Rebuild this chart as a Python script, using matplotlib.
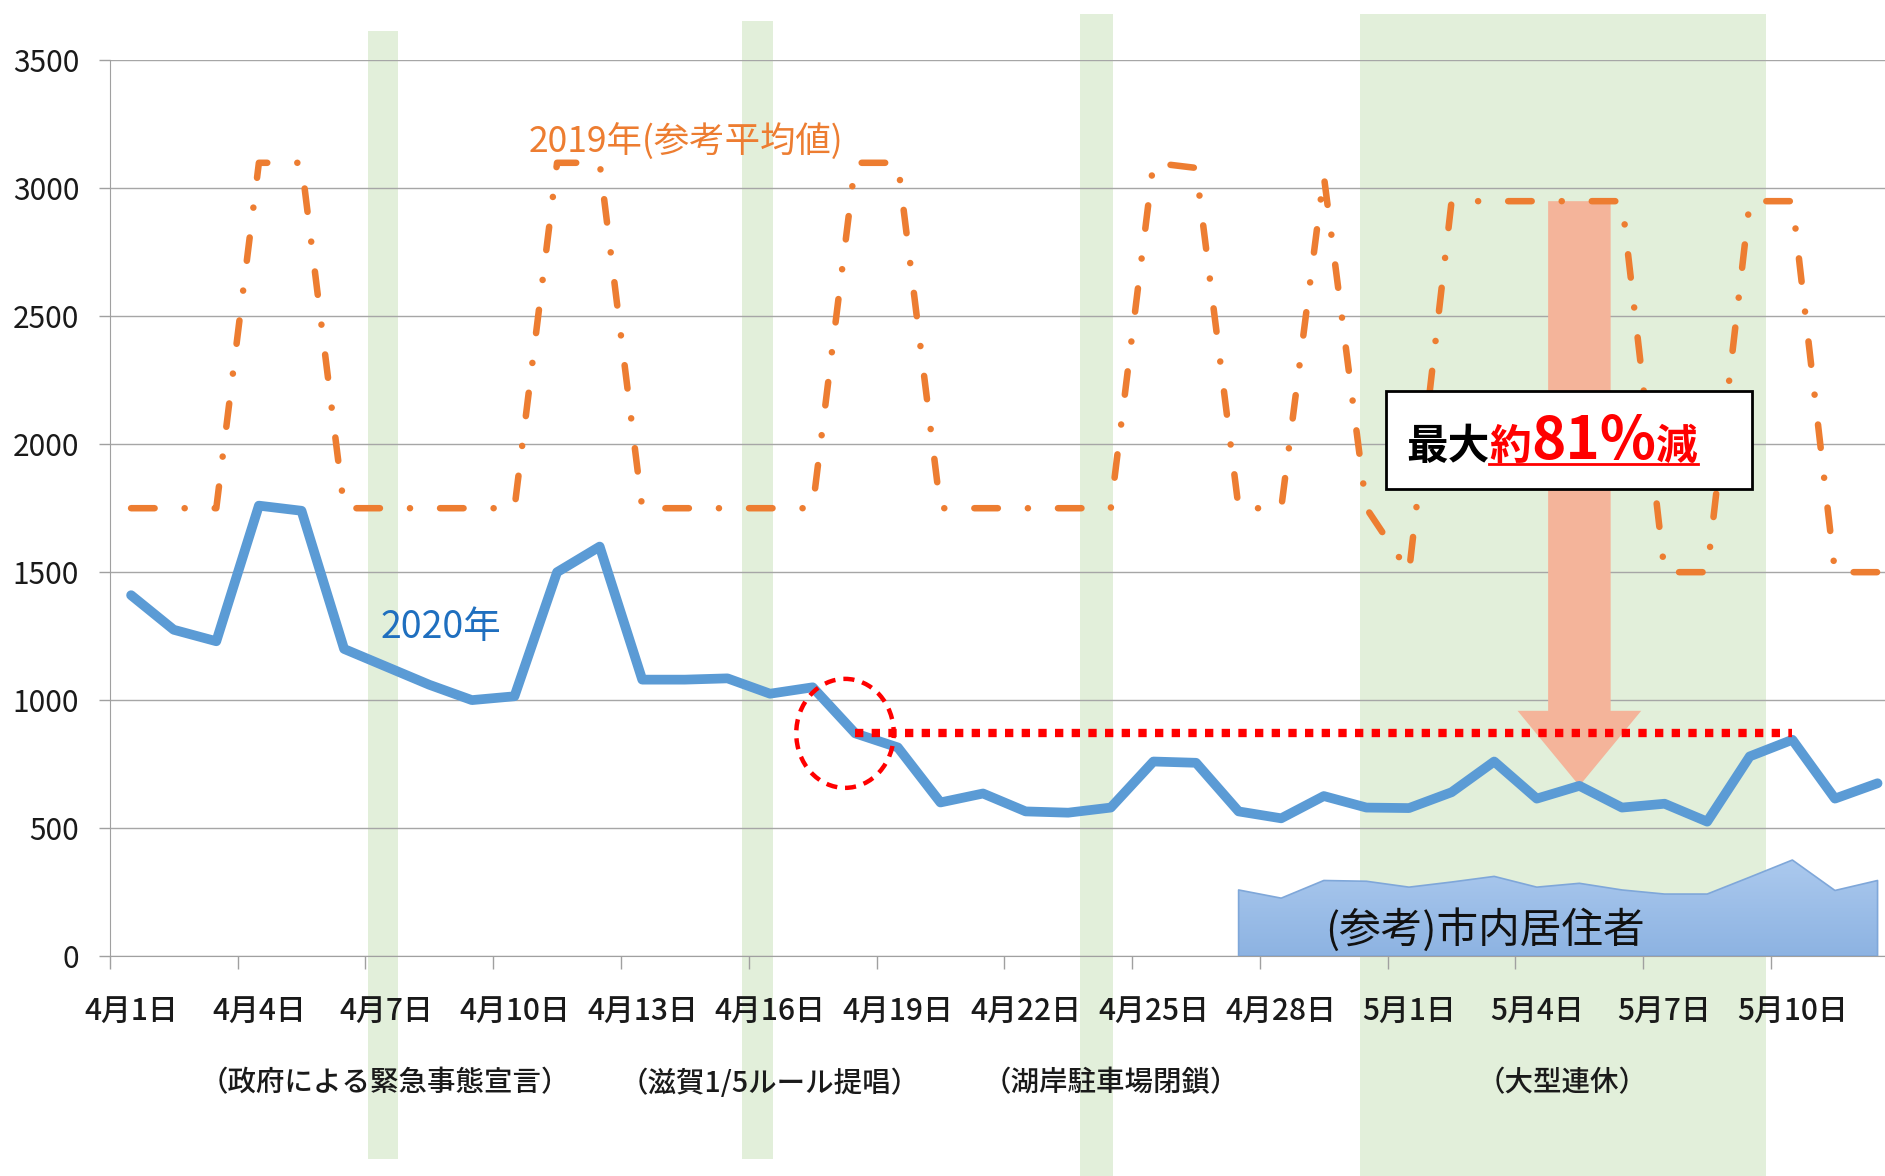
import numpy as np
import matplotlib
matplotlib.use('Agg')
import matplotlib.pyplot as plt
from matplotlib import patches, transforms
from matplotlib.lines import Line2D
from matplotlib.offsetbox import TextArea, HPacker, AnnotationBbox

plt.rcParams['font.family'] = ['Noto Sans CJK JP', 'DejaVu Sans']

# 日付 (4/1 - 5/12)
days_apr = list(range(1, 31))
days_may = list(range(1, 13))
dates = [f'4月{d}日' for d in days_apr] + [f'5月{d}日' for d in days_may]

# 2020年
visitors_2020 = [1410, 1275, 1230, 1760, 1740, 1200, 1130, 1060, 1000, 1015,
                 1500, 1600, 1080, 1080, 1085, 1025, 1050, 870, 815, 600,
                 635, 565, 560, 580, 760, 755, 565, 538, 625, 580,
                 578, 640, 760, 615, 665, 580, 595, 525, 780, 845,
                 615, 675]
# 2019年(参考平均値)
visitors_2019 = [1750, 1750, 1750, 3100, 3100, 1750, 1750, 1750, 1750, 1750,
                 3100, 3100, 1750, 1750, 1750, 1750, 1750, 3100, 3100, 1750,
                 1750, 1750, 1750, 1750, 3100, 3080, 1750, 1750, 3050, 1750,
                 1500, 2950, 2950, 2950, 2950, 2950, 1500, 1500, 2950, 2950,
                 1500, 1500]
# (参考)市内居住者 4/27から
resident_start = 26
residents = [258, 226, 295, 292, 269, 289, 311, 269, 284, 258, 242, 242, 308, 375, 256, 295]

events = ['（政府による緊急事態宣言）', '（滋賀1/5ルール提唱）', '（湖岸駐車場閉鎖）', '（大型連休）']
event_x = [5.95, 15.0, 23.0, 33.6]
bands = [(5.57, 6.27), (14.34, 15.07), (22.28, 23.04), (28.86, 38.37)]
band_top = [0.974, 0.982, 0.988, 0.988]
band_bottom = [0.0145, 0.0145, 0.0, 0.0]

ref_start, ref_end = 17, 39   # 点線の範囲
drop_day = 34                 # 最大減少日 (5月5日)

fig = plt.figure(figsize=(18.85, 11.76), dpi=100)
ax = fig.add_axes([0.05825, 0.1871, 0.9491, 0.7615])
x = np.arange(len(dates))

# 緑の帯
trans = transforms.blended_transform_factory(ax.transData, fig.transFigure)
for (b0, b1), top, bot in zip(bands, band_top, band_bottom):
    ax.add_patch(patches.Rectangle((b0, bot), b1 - b0, top - bot, transform=trans,
                                   facecolor='#e2efda', edgecolor='none',
                                   clip_on=False, zorder=0.2))

# 市内居住者 (グラデーション)
xr = x[resident_start:resident_start + len(residents)]
area = ax.fill_between(xr, residents, 0, facecolor='none', edgecolor='#7fa7d9',
                       lw=1.2, zorder=1.1)
grad = matplotlib.colors.LinearSegmentedColormap.from_list('g', ['#8db3e2', '#abc9ee'])
im = ax.imshow(np.linspace(0, 1, 64).reshape(-1, 1), cmap=grad, origin='lower',
               extent=[xr[0], xr[-1], 0, max(residents)], aspect='auto', zorder=1)
im.set_clip_path(area.get_paths()[0], transform=ax.transData)

# 矢印
arrow = patches.FancyArrowPatch((drop_day, visitors_2019[drop_day]),
                                (drop_day, visitors_2020[drop_day]),
                                arrowstyle=patches.ArrowStyle.Simple(head_length=54, head_width=89, tail_width=45),
                                mutation_scale=1, shrinkA=0, shrinkB=0,
                                facecolor='#f4b49a', edgecolor='none', zorder=2)
ax.add_patch(arrow)

ax.plot(x, visitors_2019, color='#ed7d31', lw=4.7,
        linestyle=(0, (3.6, 4.6, 0.01, 4.6)), dash_capstyle='round', zorder=3)
ax.plot(x, visitors_2020, color='#5b9bd5', lw=7,
        solid_capstyle='round', solid_joinstyle='round', zorder=4)

# 基準の点線と円
level = visitors_2020[ref_start]
ax.plot([ref_start, ref_end], [level, level], color='red', lw=6,
        linestyle=(0, (1, 1)), dash_capstyle='butt', zorder=5)
ax.add_patch(patches.Ellipse((ref_start - 0.24, level), 2.29, 426, fill=False,
                             edgecolor='red', lw=3.2, linestyle=(0, (2.5, 1.8)), zorder=5))

# テキストボックス
ax.add_patch(patches.Rectangle((29.45, 1825), 8.6, 382, facecolor='white',
                               edgecolor='black', lw=2, zorder=6))
t1 = TextArea('最大', textprops=dict(color='black', fontsize=30, fontweight='bold'))
t2 = TextArea('約', textprops=dict(color='red', fontsize=30, fontweight='bold'))
t3 = TextArea('81%', textprops=dict(color='red', fontsize=42, fontweight='bold'))
t4 = TextArea('減', textprops=dict(color='red', fontsize=30, fontweight='bold'))
inner = HPacker(children=[t2, t3, t4], align='baseline', pad=0, sep=0)
outer = HPacker(children=[t1, inner], align='baseline', pad=0, sep=0)
ab = AnnotationBbox(outer, (29.93, 2009), xycoords='data', box_alignment=(0, 0.5),
                    frameon=False, pad=0, zorder=7)
ax.add_artist(ab)

# ラベル
ax.text(13.03, 3180, '2019年(参考平均値)', color='#ed7d31', fontsize=25.5,
        ha='center', va='center', zorder=6)
ax.text(7.27, 1285, '2020年', color='#1f6fbf', fontsize=27,
        ha='center', va='center', zorder=6)
ax.text(31.78, 100, '(参考)市内居住者', color='#111111', fontsize=30,
        ha='center', va='center', zorder=2)
for ex, label in zip(event_x, events):
    ax.text(ex, 0.0791, label, transform=trans, ha='center', va='center',
            fontsize=20.5, fontweight='medium', color='#1a1a1a', clip_on=False)

# 軸
ax.set_xlim(-0.5, len(dates) - 0.5)
ax.set_ylim(0, 3500)
ax.set_yticks(range(0, 3501, 500))
ax.set_xticks(np.arange(-0.5, len(dates), 3))
ax.set_xticklabels([])
ax.set_xticks(x[::3], minor=True)
ax.set_xticklabels(dates[::3], minor=True, fontweight='medium')
ax.tick_params(axis='x', which='major', length=9.4, width=1, color='#a0a0a0')
ax.tick_params(axis='x', which='minor', length=0, pad=29, labelsize=21.5, labelcolor='#1a1a1a')
ax.tick_params(axis='y', length=8, width=1, color='#a0a0a0', pad=14, labelsize=21.5,
               labelcolor='#1a1a1a')
ax.grid(axis='y', color='#a6a6a6', lw=1)
ax.set_axisbelow(True)
for s in ['top', 'right']:
    ax.spines[s].set_visible(False)
for s in ['left', 'bottom']:
    ax.spines[s].set_color('#a0a0a0')

# 下線
fig.canvas.draw()
r = fig.canvas.get_renderer()
bb = inner.get_window_extent(r)
fig.add_artist(Line2D([bb.x0, bb.x1], [bb.y0 + 8, bb.y0 + 8],
                      transform=transforms.IdentityTransform(), color='red', lw=2))

fig.savefig('out.png', dpi=100)
